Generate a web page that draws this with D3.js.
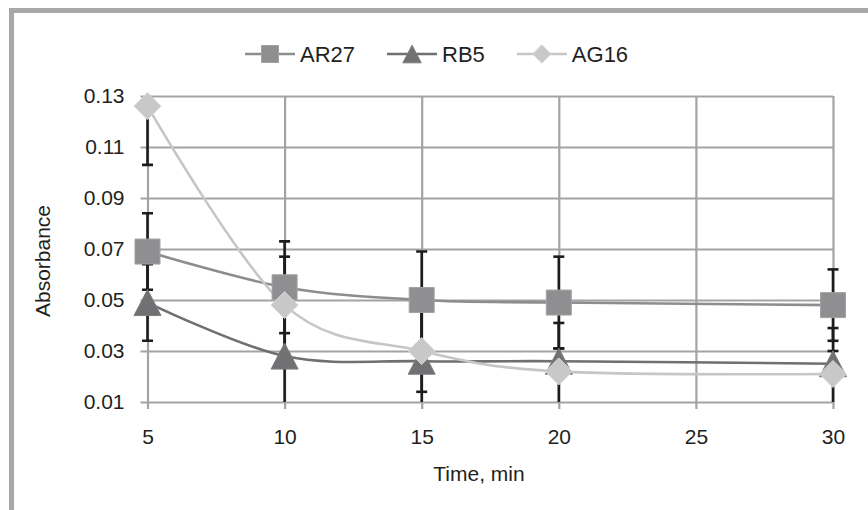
<!DOCTYPE html>
<html>
<head>
<meta charset="utf-8">
<script src="https://cdn.jsdelivr.net/npm/d3@7"></script>
<style>
  body { margin: 0; background: #fff; }
  svg { display: block; }
  text { font-family: 'Liberation Sans', Arial, sans-serif; fill: #231f20; }
</style>
</head>
<body>
<svg id="chart"></svg>
<script>
'use strict';
const TIMES = [5, 10, 15, 20, 30];
const X_TICKS = [5, 10, 15, 20, 25, 30];
const Y_TICKS = [0.01, 0.03, 0.05, 0.07, 0.09, 0.11, 0.13];
const SERIES_NAMES = ['AR27', 'RB5', 'AG16'];
const AR27 = [0.069, 0.055, 0.05, 0.049, 0.048];
const AR27_ERR = [0.015, 0.018, 0.019, 0.018, 0.014];
const RB5 = [0.049, 0.028, 0.026, 0.026, 0.025];
const RB5_ERR = [0.015, 0.02, 0.02, 0.005, 0.005];
const AG16 = [0.126, 0.048, 0.03, 0.022, 0.021];
const AG16_ERR = [0.023, 0.019, 0.016, 0.019, 0.018];
const X_TITLE = 'Time, min';
const Y_TITLE = 'Absorbance';

const STYLES = [
  { line: '#8d8d8f', fill: '#8f8f91', stroke: '#a2a2a4', marker: 'square' },
  { line: '#6f6f71', fill: '#717173', stroke: '#7c7c7e', marker: 'triangle' },
  { line: '#c6c6c6', fill: '#c8c8c9', stroke: '#d6d6d6', marker: 'diamond' },
];

const series = [AR27, RB5, AG16].map((vals, i) => ({
  name: SERIES_NAMES[i],
  style: STYLES[i],
  points: vals.map((v, j) => ({
    t: TIMES[j],
    v,
    err: [AR27_ERR, RB5_ERR, AG16_ERR][i][j],
  })),
}));

function markerPath(type, k) {
  // k scales the marker (1 = plot size)
  if (type === 'square') {
    const h = 12.5 * k;
    return `M${-h},${-h}H${h}V${h}H${-h}Z`;
  }
  if (type === 'triangle') {
    const w = 13.5 * k, h = 13 * k;
    return `M0,${-h}L${w},${h}L${-w},${h}Z`;
  }
  const d = 13.5 * k;
  return `M0,${-d}L${d},0L0,${d}L${-d},0Z`;
}

const W = 868, H = 510;
const margin = { top: 96, right: 35, bottom: 108, left: 147.5 };
const w = W - margin.left - margin.right;
const h = H - margin.top - margin.bottom;

const svg = d3.select('#chart').attr('width', W).attr('height', H);

// outer frame
svg.append('rect')
  .attr('x', 11.5).attr('y', 10.5)
  .attr('width', 1000).attr('height', 1000)
  .attr('fill', 'none')
  .attr('stroke', '#a8a8aa')
  .attr('stroke-width', 5);

const x = d3.scaleLinear().domain([5, 30]).range([0, w]);
const y = d3.scaleLinear().domain([0.01, 0.13]).range([h, 0]);

const g = svg.append('g').attr('transform', `translate(${margin.left},${margin.top})`);

g.append('clipPath').attr('id', 'plotClip')
  .append('rect').attr('x', -20).attr('y', 0).attr('width', w + 40).attr('height', h);

// horizontal grid + y axis
const yAxis = g.append('g')
  .call(d3.axisLeft(y).tickValues(Y_TICKS).tickFormat(d3.format('.2f')).tickSize(0).tickPadding(23));
yAxis.select('.domain').remove();
yAxis.selectAll('.tick line')
  .attr('x1', -7).attr('x2', w)
  .attr('stroke', '#a3a3a5').attr('stroke-width', 2.2);
yAxis.selectAll('.tick text').attr('font-size', 21).attr('fill', '#231f20');

// vertical grid + x axis
const xAxis = g.append('g').attr('transform', `translate(0,${h})`)
  .call(d3.axisBottom(x).tickValues(X_TICKS).tickFormat(d3.format('d')).tickSize(0).tickPadding(27));
xAxis.select('.domain').remove();
xAxis.selectAll('.tick line')
  .attr('y1', 7).attr('y2', -h)
  .attr('stroke', '#a3a3a5').attr('stroke-width', 2.2);
xAxis.selectAll('.tick text').attr('font-size', 21).attr('fill', '#231f20');

// axis titles
g.append('text')
  .attr('x', 331.5).attr('y', h + 79)
  .attr('text-anchor', 'middle')
  .attr('font-size', 21)
  .text(X_TITLE);

g.append('text')
  .attr('transform', `translate(${42 - margin.left},${h / 2 + 12}) rotate(-90)`)
  .attr('text-anchor', 'middle')
  .attr('dominant-baseline', 'central')
  .attr('font-size', 21)
  .text(Y_TITLE);

// smoothed lines
const line = d3.line()
  .x((d) => x(d.t))
  .y((d) => y(d.v))
  .curve(d3.curveCatmullRom.alpha(0));

g.append('g').selectAll('path')
  .data(series)
  .enter()
  .append('path')
  .attr('d', (s) => line(s.points))
  .attr('fill', 'none')
  .attr('stroke', (s) => s.style.line)
  .attr('stroke-width', 2.6);

// error bars
const errG = g.append('g').attr('clip-path', 'url(#plotClip)');
series.forEach((s) => {
  const eb = errG.append('g').selectAll('g')
    .data(s.points)
    .enter()
    .append('g')
    .attr('stroke', '#1c1c1c')
    .attr('stroke-width', 2.6);
  eb.append('line')
    .attr('x1', (d) => x(d.t)).attr('x2', (d) => x(d.t))
    .attr('y1', (d) => y(d.v - d.err)).attr('y2', (d) => y(d.v + d.err));
  [-1, 1].forEach((sign) => {
    eb.append('line')
      .attr('x1', (d) => x(d.t) - 5.5).attr('x2', (d) => x(d.t) + 5.5)
      .attr('y1', (d) => y(d.v + sign * d.err)).attr('y2', (d) => y(d.v + sign * d.err));
  });
});

// markers
series.forEach((s) => {
  g.append('g').selectAll('path')
    .data(s.points)
    .enter()
    .append('path')
    .attr('transform', (d) => `translate(${x(d.t)},${y(d.v)})`)
    .attr('d', markerPath(s.style.marker, 1))
    .attr('fill', s.style.fill)
    .attr('stroke', s.style.stroke)
    .attr('stroke-width', 1);
});

// legend
const LEGEND_Y = 54;
const legend = svg.append('g');
let lx = 245;
series.forEach((s) => {
  const item = legend.append('g').attr('transform', `translate(${lx},${LEGEND_Y})`);
  item.append('line')
    .attr('x1', 0).attr('x2', 50)
    .attr('stroke', s.style.line).attr('stroke-width', 2.6);
  item.append('path')
    .attr('transform', 'translate(25,0)')
    .attr('d', markerPath(s.style.marker, 0.68))
    .attr('fill', s.style.fill)
    .attr('stroke', s.style.stroke)
    .attr('stroke-width', 1);
  const txt = item.append('text')
    .attr('x', 55)
    .attr('dy', '0.36em')
    .attr('font-size', 22)
    .text(s.name);
  lx += 55 + txt.node().getComputedTextLength() + 32;
});
</script>
</body>
</html>
